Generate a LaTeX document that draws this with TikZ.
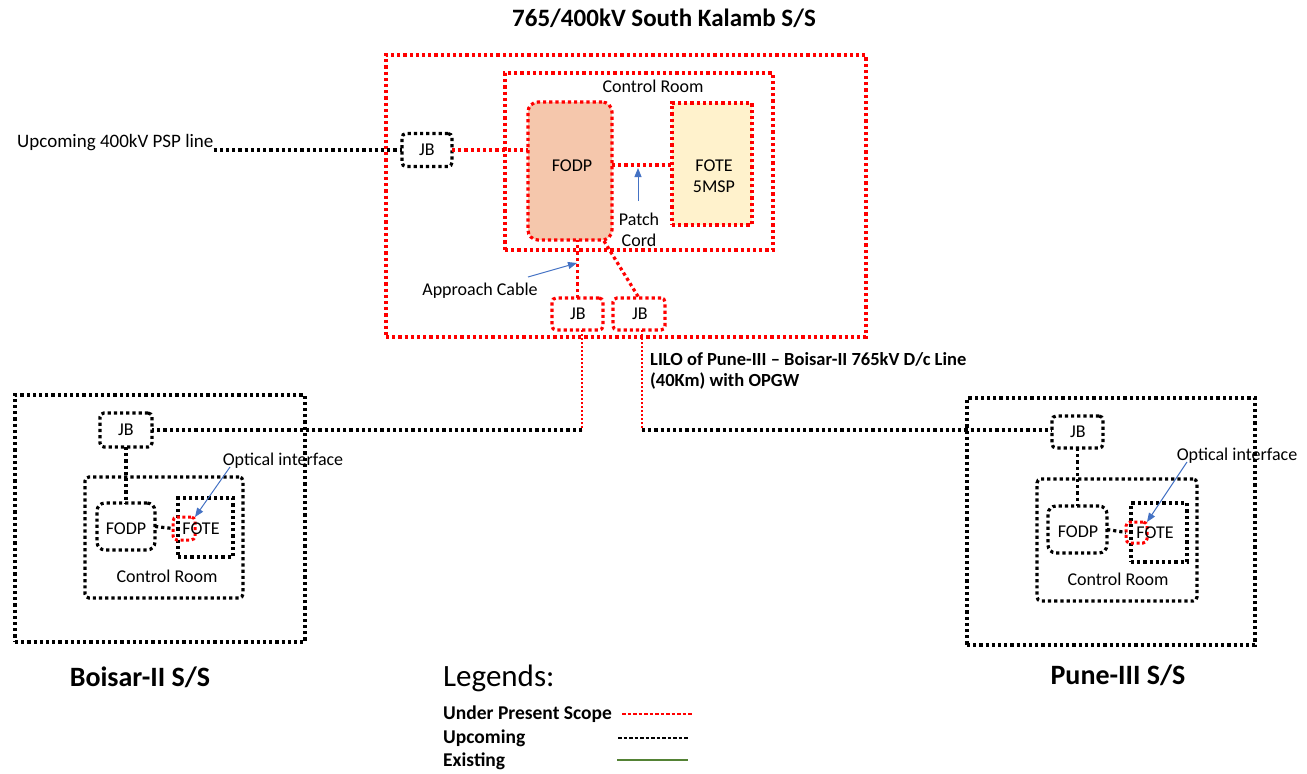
\documentclass[tikz,border=0pt]{standalone}
\usepackage{fontspec}
\setmainfont{Carlito}
\usetikzlibrary{arrows.meta}
\definecolor{rd}{RGB}{255,0,0}
\definecolor{peach}{RGB}{245,199,172}
\definecolor{paleyel}{RGB}{255,242,204}
\definecolor{arrowblue}{RGB}{68,114,196}
\definecolor{lgreen}{RGB}{84,130,53}
\begin{document}
\begin{tikzpicture}[x=1pt,y=-1pt,
  rdot/.style={draw=rd, line width=3.2pt, dash pattern=on 3.2pt off 3pt},
  bdot/.style={draw=black, line width=3.2pt, dash pattern=on 3.2pt off 3pt},
  rthin/.style={draw=rd, line width=2pt, dash pattern=on 2pt off 2pt},
  boxn/.style={inner sep=0pt, outer sep=0pt},
  txt/.style={inner sep=0pt, font=\fontsize{18}{21}\selectfont},
  btxt/.style={inner sep=0pt, font=\bfseries\fontsize{18.5}{21}\selectfont},
  lbtxt/.style={inner sep=0pt, font=\bfseries\fontsize{19.5}{22}\selectfont},
  barrow/.style={draw=arrowblue, line width=1pt, -{Triangle[length=9pt,width=7pt]}},
  lgd/.style={line width=1.6pt, dash pattern=on 3.5pt off 2pt}]
\useasboundingbox (0,0) rectangle (1307,774);
% ---------- Title
\node[txt, anchor=west, font=\bfseries\fontsize{25}{30}\selectfont] (title) at (512,18) {765/400kV South Kalamb S/S};
% ---------- South Kalamb
\node[boxn, rdot, minimum width=480pt, minimum height=282pt] (ks) at (626,196) {};
\node[boxn, rdot, minimum width=268pt, minimum height=177pt] (kcr) at (639,161.5) {};
\node[txt] (kcrl) at (653,86) {Control Room};
\node[boxn, rdot, fill=peach, rounded corners=10pt, minimum width=84pt, minimum height=138pt] (kfodp) at (570,171) {};
\node[txt] at (572,166) {FODP};
\node[boxn, rdot, fill=paleyel, minimum width=80pt, minimum height=122pt] (kfote) at (712,164) {};
\node[txt, align=center] at (714,176) {FOTE\\5MSP};
\node[boxn, bdot, rounded corners=4pt, minimum width=50pt, minimum height=33pt] (kjba) at (427,150) {};
\node[txt] at (427,150) {JB};
\node[boxn, rdot, rounded corners=4pt, minimum width=51pt, minimum height=32pt] (kjb1) at (577.5,314) {};
\node[txt] at (578,314) {JB};
\node[boxn, rdot, rounded corners=4pt, minimum width=52pt, minimum height=32pt] (kjb2) at (639,314) {};
\node[txt] at (640,314) {JB};
\node[txt, anchor=west, font=\fontsize{19}{22}\selectfont] (psp) at (17,143) {Upcoming 400kV PSP line};
\draw[bdot] (psp.east |- kjba.west) -- (kjba.west);
\draw[rdot] (kjba.east) -- (kjba.east -| kfodp.west);
\coordinate (pc) at (640,165);
\draw[rdot] (kfodp.east |- pc) -- (kfote.west |- pc);
\coordinate (pctip) at (638,168);
\node[txt, align=center] (patch) at (639,230) {Patch\\Cord};
\coordinate (pcs) at (638,201);
\draw[barrow] (pcs) -- (pctip);
\draw[rdot] (kjb1.north) -- (kjb1.north |- kfodp.south);
\coordinate (dg) at (604,241);
\draw[rdot] (dg) -- (kjb2.north);
\node[txt] (appr) at (480,291) {Approach Cable};
\coordinate (aps) at (528,277);
\coordinate (apt) at (577,263);
\draw[barrow] (aps) -- (apt);
% ---------- LILO
\coordinate (c1) at (582,430);
\coordinate (c2) at (642,430);
\draw[rthin] (c1 |- kjb1.south) -- (c1);
\draw[rthin] (c2 |- kjb2.south) -- (c2);
\node[btxt, anchor=north west, align=left] (lilo) at (650,352) {LILO of Pune-III -- Boisar-II 765kV D/c Line\\(40Km) with OPGW};
% ---------- Boisar-II
\node[boxn, bdot, minimum width=290pt, minimum height=247pt] (bo) at (160,518.5) {};
\node[boxn, bdot, rounded corners=4pt, minimum width=158pt, minimum height=121pt] (bcr) at (164,537.5) {};
\node[txt] at (167,576) {Control Room};
\node[boxn, bdot, rounded corners=8pt, minimum width=58pt, minimum height=47pt] (bfodp) at (126,526.5) {};
\node[txt] at (126,529) {FODP};
\node[boxn, bdot, minimum width=55pt, minimum height=59pt] (bfote) at (205.5,527.5) {};
\node[boxn, draw=rd, line width=3pt, dash pattern=on 3pt off 2.6pt, rounded corners=4pt, minimum width=22pt, minimum height=23pt] (boi) at (184,528.5) {};
\node[txt] at (201,529) {FOTE};
\node[boxn, bdot, rounded corners=4pt, minimum width=52pt, minimum height=34pt] (bjb) at (126,430) {};
\node[txt] at (126,430) {JB};
\draw[bdot] (bjb.south) -- (bfodp.north);
\draw[bdot] (bfodp.east) -- (boi.west);
\draw[bdot] (c1) -- (bjb.east);
\node[txt] (bopt) at (283,461) {Optical interface};
\coordinate (bos) at (230,467);
\draw[barrow] (bos) -- (boi.north east);
\node[txt, font=\bfseries\fontsize{28}{32}\selectfont] (btitle) at (140,677) {Boisar-II S/S};
% ---------- Pune-III
\node[boxn, bdot, minimum width=288pt, minimum height=247pt] (po) at (1111,521.5) {};
\node[boxn, bdot, rounded corners=4pt, minimum width=160pt, minimum height=122pt] (pcr) at (1117,540) {};
\node[txt] at (1118,579) {Control Room};
\node[boxn, bdot, rounded corners=8pt, minimum width=59pt, minimum height=47pt] (pfodp) at (1077.5,529.5) {};
\node[txt] at (1078,532) {FODP};
\node[boxn, bdot, minimum width=56pt, minimum height=59pt] (pfote) at (1159,532.5) {};
\node[boxn, draw=rd, line width=3pt, dash pattern=on 3pt off 2.6pt, rounded corners=4pt, minimum width=21pt, minimum height=21pt] (poi) at (1136.5,532.5) {};
\node[txt] at (1155,533) {FOTE};
\node[boxn, bdot, rounded corners=4pt, minimum width=51pt, minimum height=32pt] (pjb) at (1077.5,432) {};
\node[txt] at (1078,432) {JB};
\draw[bdot] (pjb.south) -- (pfodp.north);
\draw[bdot] (pfodp.east) -- (poi.west);
\draw[bdot] (c2) -- (c2 -| pjb.west);
\node[txt] (popt) at (1237,456) {Optical interface};
\coordinate (pos) at (1187,462);
\draw[barrow] (pos) -- (poi.north east);
\node[txt, font=\bfseries\fontsize{28}{32}\selectfont] (ptitle) at (1118,675) {Pune-III S/S};
% ---------- Legend
\node[txt, anchor=west, font=\fontsize{31}{36}\selectfont] (lg) at (443,678) {Legends:};
\node[lbtxt, anchor=west] (l1) at (443,714) {Under Present Scope};
\node[lbtxt, anchor=west] (l2) at (443,738) {Upcoming};
\node[lbtxt, anchor=west] (l3) at (443,761) {Existing};
\coordinate (l1a) at (622,714); \coordinate (l1b) at (692,714);
\coordinate (l2a) at (618,738); \coordinate (l2b) at (688,738);
\coordinate (l3a) at (617,760); \coordinate (l3b) at (688,760);
\draw[lgd, draw=rd] (l1a) -- (l1b);
\draw[lgd, draw=black] (l2a) -- (l2b);
\draw[line width=2pt, draw=lgreen] (l3a) -- (l3b);
\end{tikzpicture}
\end{document}
